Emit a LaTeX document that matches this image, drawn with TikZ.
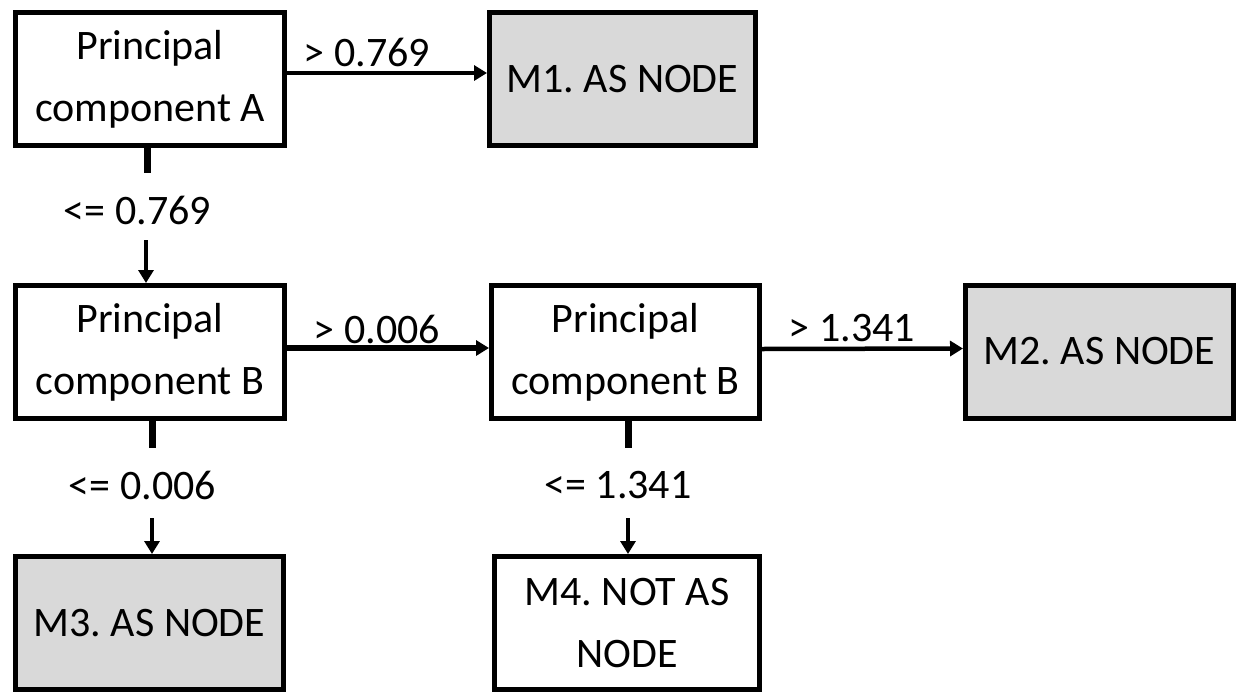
\documentclass[tikz,border=0pt]{standalone}
\usepackage{fontspec}
\setmainfont{Carlito}
\usetikzlibrary{arrows.meta}
\definecolor{boxgray}{RGB}{217,217,217}
\frenchspacing
\begin{document}
\begin{tikzpicture}[x=1pt,y=-1pt,
  box/.style={draw=black,line width=5pt,minimum width=269pt,minimum height=133pt,inner sep=0pt,align=center,font=\frenchspacing\fontsize{42pt}{62pt}\selectfont,fill=white},
  leaf/.style={box,fill=boxgray},
  arr/.style={line width=4.5pt,-{Triangle[length=13pt,width=15pt]}},
  stub/.style={line width=7pt},
  lbl/.style={inner sep=0pt,font=\fontsize{42pt}{50pt}\selectfont}]
\useasboundingbox (0,0) rectangle (1237,691);
\fill[white] (0,0) rectangle (1237,691);
% boxes
\node[box] (A) at (150,79) {Principal\\component A};
\node[leaf,minimum width=266pt] (M1) at (622.5,79) {M1. AS NODE};
\node[box] (B) at (150,352) {Principal\\component B};
\node[box,minimum width=268pt] (C) at (625.5,352) {Principal\\component B};
\node[leaf,minimum width=268pt] (M2) at (1099.5,351.5) {M2. AS NODE};
\node[leaf,minimum width=268pt] (M3) at (149.5,623) {M3. AS NODE};
\node[box,minimum width=265pt] (M4) at (627,623) {M4. NOT AS\\NODE};
% labels
\node[lbl] (l1) at (367,52) {> 0.769};
\node[lbl] (l2) at (137.5,210) {<= 0.769};
\node[lbl] (l3) at (377,329.5) {> 0.006};
\node[lbl] (l4) at (852,328) {> 1.341};
\node[lbl] (l5) at (142.5,485) {<= 0.006};
\node[lbl] (l6) at (618,485) {<= 1.341};
% connectors
\draw[arr] ([yshift=6pt]A.east) -- ([yshift=6pt]M1.west);
\draw[stub] ([xshift=-3pt]A.south) -- ([xshift=-3pt,yshift=-25pt]A.south);
\draw[arr] ([xshift=-4pt,yshift=43pt]B.north) -- ([xshift=-4pt]B.north);
\draw[arr,line width=5.5pt] ([yshift=4pt]B.east) -- ([yshift=4pt]C.west);
\draw[arr] ([yshift=3pt]C.east) -- ([yshift=3pt]M2.west);
\draw[stub] ([xshift=2pt]B.south) -- ([xshift=2pt,yshift=-27pt]B.south);
\draw[arr] ([xshift=2.5pt,yshift=36pt]M3.north) -- ([xshift=2.5pt]M3.north);
\draw[stub] ([xshift=2.5pt]C.south) -- ([xshift=2.5pt,yshift=-27pt]C.south);
\draw[arr] ([xshift=1pt,yshift=36pt]M4.north) -- ([xshift=1pt]M4.north);
\end{tikzpicture}
\end{document}
